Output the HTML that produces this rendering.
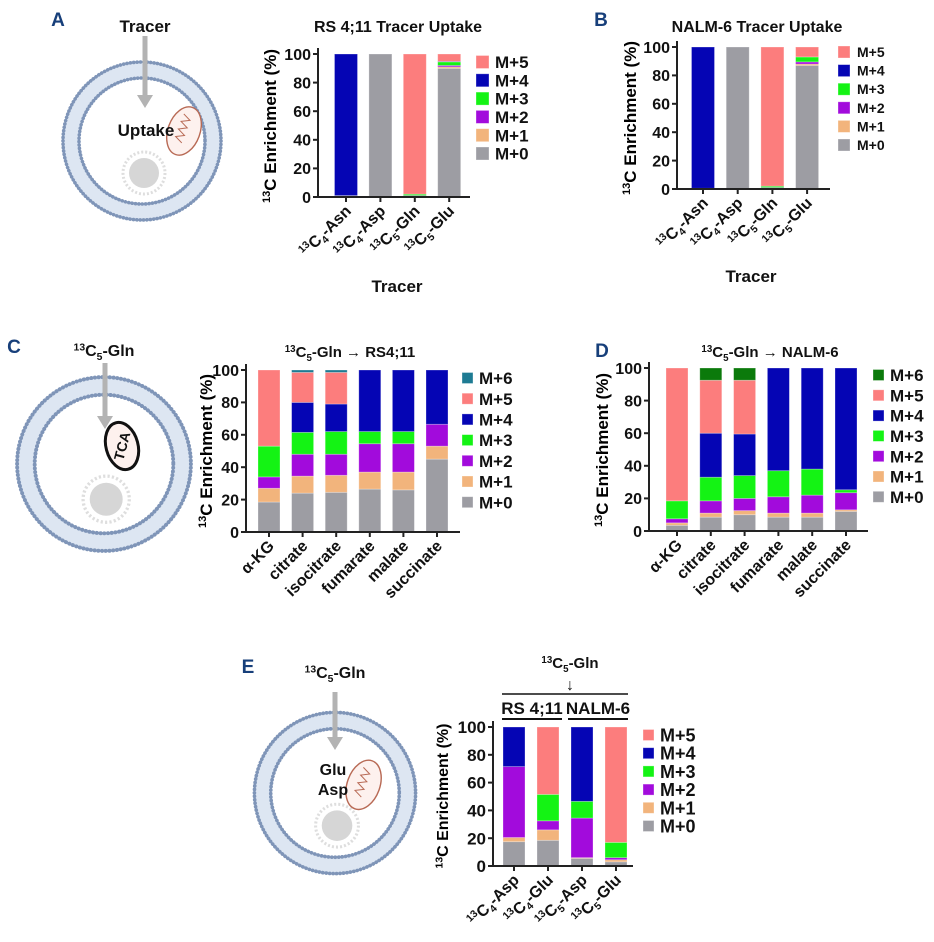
<!DOCTYPE html>
<html><head><meta charset="utf-8">
<style>
html,body{margin:0;padding:0;background:#fff;}
svg{display:block;font-family:"Liberation Sans",Arial,sans-serif;font-weight:bold;}
</style></head>
<body>
<svg id="fig" width="934" height="942" viewBox="0 0 934 942" xmlns="http://www.w3.org/2000/svg">
<defs>
<g id="cellbase">
  <circle r="71" fill="none" stroke="#dde6f2" stroke-width="15"/>
  <circle r="79" fill="none" stroke="#7f95b8" stroke-width="3.6" stroke-dasharray="0.1 3.3" stroke-linecap="round"/>
  <circle r="63" fill="none" stroke="#7f95b8" stroke-width="3.6" stroke-dasharray="0.1 3.3" stroke-linecap="round"/>
</g>
</defs>
</svg>
<script>
// ---------------- DATA ----------------
const seriesLabels = ["M+0","M+1","M+2","M+3","M+4","M+5","M+6"];
const tickValues = [0,20,40,60,80,100];

const catsA = ["13C4-Asn","13C4-Asp","13C5-Gln","13C5-Glu"];
const A_m0 = [1,100,0.5,90];
const A_m1 = [0,0,0,1];
const A_m2 = [0,0,0.5,1];
const A_m3 = [0,0,1,2.5];
const A_m4 = [99,0,0,0.3];
const A_m5 = [0,0,98,5.2];

const catsB = ["13C4-Asn","13C4-Asp","13C5-Gln","13C5-Glu"];
const B_m0 = [0.5,100,0.5,87];
const B_m1 = [0,0,0,1];
const B_m2 = [0,0,0.5,1.5];
const B_m3 = [0,0,1,3.5];
const B_m4 = [99.5,0,0,0];
const B_m5 = [0,0,98,7];

const catsC = ["α-KG","citrate","isocitrate","fumarate","malate","succinate"];
const C_m0 = [18.5,24,24.5,26.5,26,45];
const C_m1 = [8.5,10.5,10.5,10.5,11,8];
const C_m2 = [7,13.5,13,17.5,17.5,13.5];
const C_m3 = [19,13.5,14,7.5,7.5,0];
const C_m4 = [0,18.5,17,38,38,33.5];
const C_m5 = [47,18.5,19.5,0,0,0];
const C_m6 = [0,1.5,1.5,0,0,0];

const catsD = ["α-KG","citrate","isocitrate","fumarate","malate","succinate"];
const D_m0 = [3.5,8.5,10,8.5,8.5,12];
const D_m1 = [1.5,2.5,2.5,2.5,2.5,1];
const D_m2 = [2.5,7.5,7.5,10,11,10.5];
const D_m3 = [11,14.5,14,16,16,1.8];
const D_m4 = [0,27,25.5,63,62,74.7];
const D_m5 = [81.5,32.5,33,0,0,0];
const D_m6 = [0,7.5,7.5,0,0,0];

const catsE = ["13C4-Asp","13C4-Glu","13C5-Asp","13C5-Glu"];
const E_m0 = [17.5,18.5,5.5,3];
const E_m1 = [3,7.5,0.5,1.5];
const E_m2 = [51,6.5,28.5,1.5];
const E_m3 = [0,19,12,11];
const E_m4 = [28.5,0,53.5,0];
const E_m5 = [0,48.5,0,83];

const COLORS = ["#9d9da3","#f2b47c","#a20bdc","#14f314","#0505b4","#fc7d7d"];
// ---------------- DRAW ----------------
const NS = "http://www.w3.org/2000/svg";
const svg = document.getElementById("fig");
function mk(tag, attrs, parent){
  const e = document.createElementNS(NS, tag);
  for (const k in attrs) e.setAttribute(k, attrs[k]);
  (parent||svg).appendChild(e);
  return e;
}
function richLabel(t, str, small){
  const m = str.match(/^13C(\d)(.*)$/);
  if(!m){ t.textContent = str; return; }
  const s1 = mk("tspan",{"font-size":small,dy:-6},t); s1.textContent="13";
  const s2 = mk("tspan",{dy:6},t); s2.textContent="C";
  const s3 = mk("tspan",{"font-size":small,dy:4},t); s3.textContent=m[1];
  const s4 = mk("tspan",{dy:-4},t); s4.textContent=m[2];
}
function yTitle(g, x, y, fs){
  const t = mk("text",{x:x,y:y,"font-size":fs,"text-anchor":"middle",transform:`rotate(-90 ${x} ${y})`},g);
  
  
  const a = mk("tspan",{"font-size":fs*0.65,dy:-fs*0.35},t); a.textContent="13";
  const b = mk("tspan",{dy:fs*0.35},t); b.textContent="C Enrichment (%)";
}
function chart(cfg){
  const g = mk("g",{});
  
  
  const y = v => cfg.y0 - v/100*(cfg.y0-cfg.y100);
  const x = i => cfg.x0 + i*cfg.step;
  cfg.cats.forEach((c,i)=>{
    let acc = 0;
    cfg.series.forEach((s,k)=>{
      const v = s.values[i];
      if(v>0){
        const r = mk("rect",{x:x(i)-cfg.bw/2,y:y(acc+v),width:cfg.bw,height:y(acc)-y(acc+v),fill:s.color,stroke:"rgba(255,255,255,0.35)","stroke-width":0.8},g);
        
        
      }
      acc += v;
    });
  });
  const ya = mk("line",{x1:cfg.ax,y1:cfg.y100-6,x2:cfg.ax,y2:cfg.y0+1,stroke:"#222","stroke-width":2},g);
  
  
  const xa = mk("line",{x1:cfg.ax-1,y1:cfg.y0,x2:cfg.xEnd,y2:cfg.y0,stroke:"#222","stroke-width":2},g);
  
  
  tickValues.forEach(v=>{
    mk("line",{x1:cfg.ax-5,y1:y(v),x2:cfg.ax,y2:y(v),stroke:"#222","stroke-width":2},g);
    const t = mk("text",{x:cfg.ax-7,y:y(v)+cfg.tfs*0.36,"font-size":cfg.tfs,"text-anchor":"end",fill:"#111"},g);
    t.textContent = v;
    
    
  });
  cfg.cats.forEach((c,i)=>{
    mk("line",{x1:x(i),y1:cfg.y0,x2:x(i),y2:cfg.y0+5,stroke:"#222","stroke-width":2},g);
    const lx = x(i)+6, ly = cfg.y0+15;
    const t = mk("text",{x:lx,y:ly,"font-size":cfg.lfs,"text-anchor":"end",fill:"#111",transform:`rotate(-45 ${lx} ${ly})`},g);
    richLabel(t,c,cfg.lfs*0.65);
    
    
  });
  const L = cfg.series.slice().reverse();
  L.forEach((s,j)=>{
    const ly = cfg.lg.y + j*cfg.lg.dy;
    const r = mk("rect",{x:cfg.lg.x,y:ly-cfg.lg.sw/2,width:cfg.lg.sw,height:cfg.lg.sw,fill:s.color,stroke:"rgba(255,255,255,0.4)","stroke-width":0.8},g);
    
    
    const t = mk("text",{x:cfg.lg.tx,y:ly+cfg.lg.fs*0.36,"font-size":cfg.lg.fs,fill:"#111"},g);
    t.textContent = s.label;
    
    
  });
  yTitle(g, cfg.yt.x, cfg.yt.y, cfg.yt.fs);
  return g;
}
function ser(arrs, extraColor){
  return arrs.map((a,k)=>({label:seriesLabels[k],values:a,color:k<6?COLORS[k]:extraColor}));
}
chart({name:"chart-a",cats:catsA,series:ser([A_m0,A_m1,A_m2,A_m3,A_m4,A_m5]),
  ax:318,y0:197,y100:54,xEnd:470,x0:346,step:34.4,bw:23,tfs:16,lfs:16,
  lg:{x:476,y:62,dy:18.3,sw:13,tx:495,fs:17},yt:{x:276,y:126,fs:17}});
chart({name:"chart-b",cats:catsB,series:ser([B_m0,B_m1,B_m2,B_m3,B_m4,B_m5]),
  ax:677,y0:189,y100:47,xEnd:830,x0:703,step:34.7,bw:23,tfs:16,lfs:16,
  lg:{x:838,y:52,dy:18.6,sw:12,tx:857,fs:14},yt:{x:636,y:118,fs:17}});
chart({name:"chart-c",cats:catsC,series:ser([C_m0,C_m1,C_m2,C_m3,C_m4,C_m5,C_m6],"#1e7b93"),
  ax:246,y0:532,y100:370,xEnd:460,x0:269,step:33.6,bw:22,tfs:16,lfs:16,
  lg:{x:462,y:378,dy:20.7,sw:11,tx:479,fs:17},yt:{x:212,y:451,fs:17}});
chart({name:"chart-d",cats:catsD,series:ser([D_m0,D_m1,D_m2,D_m3,D_m4,D_m5,D_m6],"#0b7a0b"),
  ax:649,y0:531,y100:368,xEnd:868,x0:677,step:33.8,bw:22,tfs:16,lfs:16,
  lg:{x:873,y:375,dy:20.3,sw:11,tx:890,fs:17},yt:{x:608,y:450,fs:17}});
chart({name:"chart-e",cats:catsE,series:ser([E_m0,E_m1,E_m2,E_m3,E_m4,E_m5]),
  ax:493,y0:866,y100:727,xEnd:633,x0:514,step:34,bw:22,tfs:17,lfs:16,
  lg:{x:643,y:735,dy:18.2,sw:11,tx:660,fs:18},yt:{x:448,y:796,fs:16}});

// ---------- titles & static text ----------
function txt(x,y,s,fs,name,anchor,fill){
  const t = mk("text",{x:x,y:y,"font-size":fs,"text-anchor":anchor||"middle",fill:fill||"#111"});
  t.textContent = s;
  
  
  return t;
}
txt(398,32,"RS 4;11 Tracer Uptake",16,"chart-a-title");
txt(757,32,"NALM-6 Tracer Uptake",16,"chart-b-title");
txt(397,292,"Tracer",17,"chart-a-x-title");
txt(751,282,"Tracer",17,"chart-b-x-title");
txt(58,26,"A",19,"panel-label-a","middle","#173f7a");
txt(601,26,"B",19,"panel-label-b","middle","#173f7a");
txt(14,353,"C",19,"panel-label-c","middle","#173f7a");
txt(602,357,"D",19,"panel-label-d","middle","#173f7a");
txt(248,673,"E",19,"panel-label-e","middle","#173f7a");
function glnTitle(x,y,rest,fs,name){
  const t = mk("text",{x:x,y:y,"font-size":fs,"text-anchor":"middle",fill:"#111"});
  
  
  const a=mk("tspan",{"font-size":fs*0.65,dy:-fs*0.35},t); a.textContent="13";
  const b=mk("tspan",{dy:fs*0.35},t); b.textContent="C";
  const c=mk("tspan",{"font-size":fs*0.65,dy:fs*0.25},t); c.textContent="5";
  const d=mk("tspan",{dy:-fs*0.25},t); d.textContent="-Gln"+rest;
}
glnTitle(350,357," → RS4;11",15,"chart-c-title");
glnTitle(770,357," → NALM-6",15,"chart-d-title");
glnTitle(570,668,"",15,"chart-e-title");
glnTitle(104,356,"",16,"cell-c-label");
glnTitle(335,678,"",16,"cell-e-label");
txt(570,690,"↓",16,"chart-e-arrow");
mk("line",{x1:502,y1:694,x2:628,y2:694,stroke:"#111","stroke-width":1.5});
mk("line",{x1:502,y1:719,x2:562,y2:719,stroke:"#111","stroke-width":2});
mk("line",{x1:568,y1:719,x2:628,y2:719,stroke:"#111","stroke-width":2});
txt(532,714,"RS 4;11",17,"group-label-rs411");
txt(598,714,"NALM-6",17,"group-label-nalm6");

// ---------- cell schematics ----------
function cellDraw(cx,cy,s,name){
  const g = mk("g",{transform:`translate(${cx} ${cy}) scale(${s})`});
  
  
  mk("use",{href:"#cellbase"},g);
  mk("circle",{cx:2,cy:32,r:15,fill:"#d6d6d6"},g);
  mk("circle",{cx:2,cy:32,r:21,fill:"none",stroke:"#dedede","stroke-width":3,"stroke-dasharray":"2 2"},g);
  return g;
}
function mito(g,x,y){
  mk("ellipse",{cx:x,cy:y,rx:16,ry:25,fill:"#fdf1ee",stroke:"#b86a55","stroke-width":1.4,transform:`rotate(20 ${x} ${y})`},g);
  mk("path",{d:`M${x-6} ${y-16} l8 4 l-8 4 l8 4 l-8 4 l8 4 l-8 4 l8 4`,fill:"none",stroke:"#b86a55","stroke-width":1,transform:`rotate(20 ${x} ${y})`},g);
}
function arrow(x,y1,y2,name){
  const g = mk("g",{});
  
  
  mk("line",{x1:x,y1:y1,x2:x,y2:y2-12,stroke:"#b3b3b3","stroke-width":5},g);
  mk("path",{d:`M${x-8} ${y2-13} L${x+8} ${y2-13} L${x} ${y2} Z`,fill:"#b3b3b3"},g);
}
const cA = cellDraw(142,141,1,"cell-a");
mito(cA,42,-10);
txt(145,32,"Tracer",17,"cell-a-tracer-label");
arrow(145,36,108,"cell-a-arrow");
txt(146,136,"Uptake",17,"cell-a-uptake-label");

const cC = cellDraw(104,464,1.1,"cell-c");
arrow(105,363,429,"cell-c-arrow");
mk("ellipse",{cx:122,cy:446,rx:16,ry:24,fill:"#fdf1ee",stroke:"#111","stroke-width":3,transform:"rotate(-15 122 446)"});
const tca = txt(122,451,"TCA",14,"tca-label");
tca.setAttribute("transform","rotate(-75 122 446)");

const cE = cellDraw(335,793,1.02,"cell-e");
mito(cE,28,-8);
arrow(335,692,750,"cell-e-arrow");
txt(333,775,"Glu",16,"cell-e-glu-label");
txt(333,795,"Asp",16,"cell-e-asp-label");
</script>
</body></html>
